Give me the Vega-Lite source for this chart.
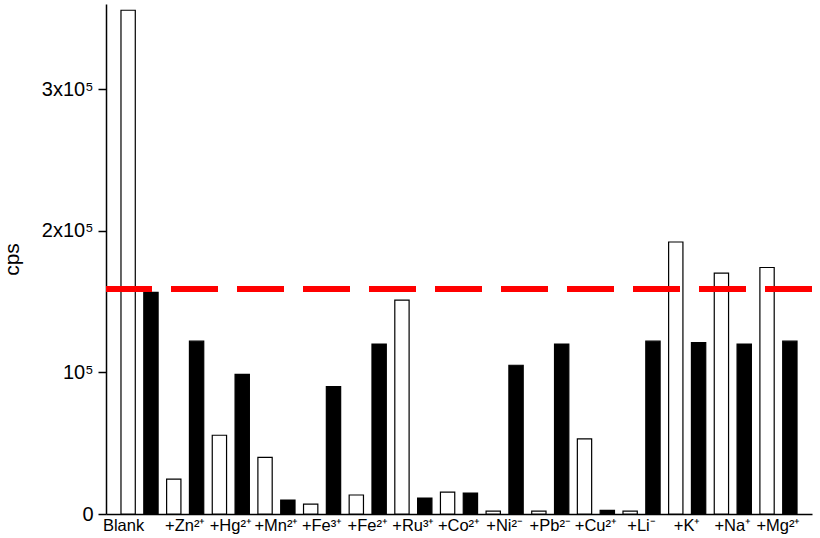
{
  "$schema": "https://vega.github.io/schema/vega-lite/v6.json",
  "width": 706,
  "height": 510,
  "autosize": {"type": "none"},
  "padding": {"left": 106, "top": 4, "right": 8, "bottom": 24},
  "background": "white",
  "config": {"view": {"stroke": null}, "font": "Liberation Sans"},
  "data": {
    "values": [
      {"ion": "Blank", "s": "w", "v": 355600}, {"ion": "Blank", "s": "b", "v": 156500},
      {"ion": "+Zn²⁺", "s": "w", "v": 24600}, {"ion": "+Zn²⁺", "s": "b", "v": 122000},
      {"ion": "+Hg²⁺", "s": "w", "v": 55600}, {"ion": "+Hg²⁺", "s": "b", "v": 98600},
      {"ion": "+Mn²⁺", "s": "w", "v": 40000}, {"ion": "+Mn²⁺", "s": "b", "v": 9900},
      {"ion": "+Fe³⁺", "s": "w", "v": 7000}, {"ion": "+Fe³⁺", "s": "b", "v": 90000},
      {"ion": "+Fe²⁺", "s": "w", "v": 13400}, {"ion": "+Fe²⁺", "s": "b", "v": 120000},
      {"ion": "+Ru³⁺", "s": "w", "v": 151000}, {"ion": "+Ru³⁺", "s": "b", "v": 11300},
      {"ion": "+Co²⁺", "s": "w", "v": 15500}, {"ion": "+Co²⁺", "s": "b", "v": 14800},
      {"ion": "+Ni²⁻", "s": "w", "v": 2100}, {"ion": "+Ni²⁻", "s": "b", "v": 105000},
      {"ion": "+Pb²⁻", "s": "w", "v": 2100}, {"ion": "+Pb²⁻", "s": "b", "v": 120000},
      {"ion": "+Cu²⁺", "s": "w", "v": 53000}, {"ion": "+Cu²⁺", "s": "b", "v": 2600},
      {"ion": "+Li⁻", "s": "w", "v": 2100}, {"ion": "+Li⁻", "s": "b", "v": 122000},
      {"ion": "+K⁺", "s": "w", "v": 192000}, {"ion": "+K⁺", "s": "b", "v": 121000},
      {"ion": "+Na⁺", "s": "w", "v": 170000}, {"ion": "+Na⁺", "s": "b", "v": 120000},
      {"ion": "+Mg²⁺", "s": "w", "v": 174000}, {"ion": "+Mg²⁺", "s": "b", "v": 122000}
    ]
  },
  "layer": [
    {
      "mark": {"type": "bar", "stroke": "black", "strokeWidth": 1.2},
      "encoding": {
        "x": {
          "field": "ion", "type": "nominal", "sort": null,
          "scale": {"paddingInner": 0, "paddingOuter": 0.235},
          "axis": {
            "title": null, "ticks": false, "labelAngle": 0, "labelFontSize": 16.5,
            "labelColor": "black", "labelPadding": 3, "domainColor": "black", "domainWidth": 1.5,
            "labelOffset": {"condition": {"test": "datum.value === 'Blank'", "value": -16}, "value": 0}
          }
        },
        "xOffset": {
          "field": "s", "type": "nominal", "sort": ["w", "b"],
          "scale": {"paddingInner": 0.373, "paddingOuter": 0.1865}
        },
        "y": {
          "field": "v", "type": "quantitative",
          "scale": {"domain": [0, 360000], "nice": false},
          "axis": {
            "title": "cps", "values": [0, 100000, 200000, 300000],
            "labelExpr": "datum.value==0?'0':datum.value==100000?'10⁵':datum.value==200000?'2x10⁵':'3x10⁵'",
            "labelFontSize": 20, "labelColor": "black", "tickSize": 8, "tickColor": "black",
            "tickWidth": 1.5, "domainColor": "black", "domainWidth": 1.5, "labelPadding": 5, "grid": false,
            "titleFontSize": 21, "titleFontWeight": "normal", "titleColor": "black", "titlePadding": 19
          }
        },
        "fill": {
          "field": "s", "type": "nominal",
          "scale": {"domain": ["w", "b"], "range": ["white", "black"]}, "legend": null
        }
      }
    },
    {
      "mark": {"type": "rule", "color": "#ff0000", "strokeWidth": 5, "strokeDash": [47, 19]},
      "encoding": {"y": {"datum": 159000}}
    }
  ]
}
